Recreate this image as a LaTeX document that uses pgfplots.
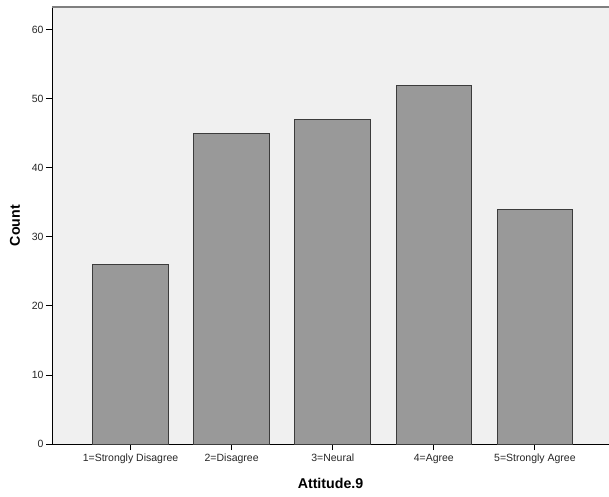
\documentclass[border=0pt]{standalone}
\usepackage{fontspec}
\setmainfont{Liberation Sans}
\usepackage{pgfplots}
\pgfplotsset{compat=1.18}

\definecolor{plotbg}{HTML}{F0F0F0}
\definecolor{barfill}{HTML}{999999}
\definecolor{baredge}{HTML}{3C3C3C}
\definecolor{topline}{HTML}{7F7F7F}

\begin{document}
\begin{tikzpicture}
\begin{axis}[
  name=ax,
  scale only axis,
  width=557pt, height=437pt,
  xmin=0.223, xmax=5.733,
  ymin=0, ymax=63.3,
  axis lines*=left,
  axis line style={black, line width=0.9pt},
  axis background/.style={fill=plotbg},
  xtick={1,2,3,4,5},
  xticklabels={1=Strongly Disagree,2=Disagree,3=Neural,4=Agree,5=Strongly Agree},
  ytick={0,10,20,30,40,50,60},
  tick align=outside,
  major tick length=6pt,
  tick style={black, line width=0.9pt},
  /pgf/number format/assume math mode=true,
  ticklabel style={font=\fontsize{10.5}{12}\selectfont, text=black!85},
  xticklabel style={text height=8pt, text depth=2.5pt},
  yticklabel style={xshift=1pt},
  xlabel={\textbf{Attitude.9}},
  ylabel={\textbf{Count}},
  xlabel style={font=\fontsize{14.2}{16}\selectfont, yshift=-7pt},
  ylabel style={font=\fontsize{14.2}{16}\selectfont, yshift=5pt},
  clip=false,
]
\addplot[ybar, bar width=0.7475, fill=barfill, draw=baredge, line width=0.9pt]
  coordinates {(1,26) (2,45) (3,47) (4,52) (5,34)};
\draw[topline, line width=2pt] (rel axis cs:0,1) -- (rel axis cs:1,1);
\end{axis}
\pgfresetboundingbox
\useasboundingbox (-52pt,-52pt) rectangle (557pt,444pt);
\end{tikzpicture}
\end{document}
